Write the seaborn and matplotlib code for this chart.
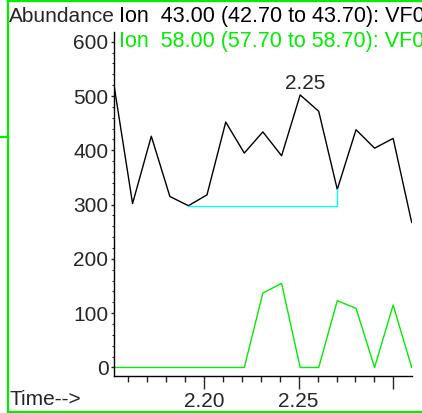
import numpy as np
import pandas as pd
import matplotlib
matplotlib.use("Agg")
import matplotlib.pyplot as plt
import seaborn as sns
from matplotlib.lines import Line2D
from matplotlib.ticker import MultipleLocator

# Chromatogram data (retention time in min)
times = [2.1525, 2.1623, 2.1722, 2.1820, 2.1918, 2.2016, 2.2115, 2.2213, 2.2311,
         2.2410, 2.2508, 2.2606, 2.2704, 2.2803, 2.2901, 2.2999, 2.3097]
ion43 = [520, 302, 426, 315, 298, 318, 452, 395, 434, 390, 502, 472, 328, 438, 404, 422, 267]
ion58 = [0, 0, 0, 0, 0, 0, 0, 0, 137, 155, 0, 0, 123, 109, 0, 115, 0]

# integration baseline under the ion 43 peak
base_start, base_end = 4, 12
base_level = 298

ion43_label = "Ion  43.00 (42.70 to 43.70): VF0"
ion58_label = "Ion  58.00 (57.70 to 58.70): VF0"
peak_idx = 10

GREEN = "#00ee00"
W, H = 422, 413

sns.set_style("ticks")
plt.rcParams['font.family'] = ['Liberation Sans', 'DejaVu Sans']
plt.rcParams['font.size'] = 15

fig = plt.figure(figsize=(W / 100, H / 100), dpi=100)
ax = fig.add_axes([114 / W, 1 - 376 / H, (411.7 - 114) / W, (376 - 32) / H])

df = pd.DataFrame({"Time": times, "Ion43": ion43, "Ion58": ion58})
sns.lineplot(data=df, x="Time", y="Ion43", color="black", linewidth=1.0, ax=ax)
sns.lineplot(data=df, x="Time", y="Ion58", color=GREEN, linewidth=1.0, ax=ax)

# baseline drawn from data points
bt = [times[base_start], times[base_end], times[base_end]]
bv = [base_level, base_level, ion43[base_end]]
ax.plot(bt, bv, color="#00ffff", linewidth=1.0)

ax.annotate(f"{times[peak_idx]:.2f}", xy=(times[peak_idx], ion43[peak_idx]),
            xytext=(3.5, 4.3), textcoords="offset points",
            ha="center", va="baseline", fontsize=15)

ax.set_xlim(times[0], times[-1])
ax.set_ylim(-15.7, 618)
ax.set_xticks([2.20, 2.25, 2.30])
ax.set_xticklabels(["2.20", "2.25", ""])
ax.xaxis.set_minor_locator(MultipleLocator(0.01))
ax.yaxis.set_major_locator(MultipleLocator(100))
ax.yaxis.set_minor_locator(MultipleLocator(20))
ax.tick_params(axis="x", which="major", length=9.4, width=1.0, pad=2, labelsize=15)
ax.tick_params(axis="x", which="minor", length=4.3, width=1.0)
ax.tick_params(axis="y", which="major", length=2.0, width=1.0, pad=2, labelsize=15)
ax.tick_params(axis="y", which="minor", length=1.5, width=0.8)
ax.set_xlabel("")
ax.set_ylabel("")
sns.despine(ax=ax)
for s in ["left", "bottom"]:
    ax.spines[s].set_color("black")
    ax.spines[s].set_linewidth(1.0)
ax.patch.set_alpha(0)


def px(x, y):
    return x / W, 1 - y / H


fig.text(*px(8.5, 21.7), "Abundance", fontsize=15, va="baseline")
fig.text(*px(119.3, 21.7), ion43_label, fontsize=15.5, va="baseline", color="black")
fig.text(*px(119.3, 46.7), ion58_label, fontsize=15.5, va="baseline", color=GREEN)
fig.text(*px(9, 405), "Time-->", fontsize=15, va="baseline")

# green frame around the panel
frame = [((7.5, 7.5), (0, 413)), ((7.5, 422), (0.8, 0.8)),
         ((7.5, 422), (411.6, 411.6)), ((0, 7.5), (136.7, 136.7))]
for xs, ys in frame:
    fig.add_artist(Line2D([x / W for x in xs], [1 - y / H for y in ys],
                          color=GREEN, linewidth=1.6, transform=fig.transFigure))

fig.savefig("out.png", dpi=100)
